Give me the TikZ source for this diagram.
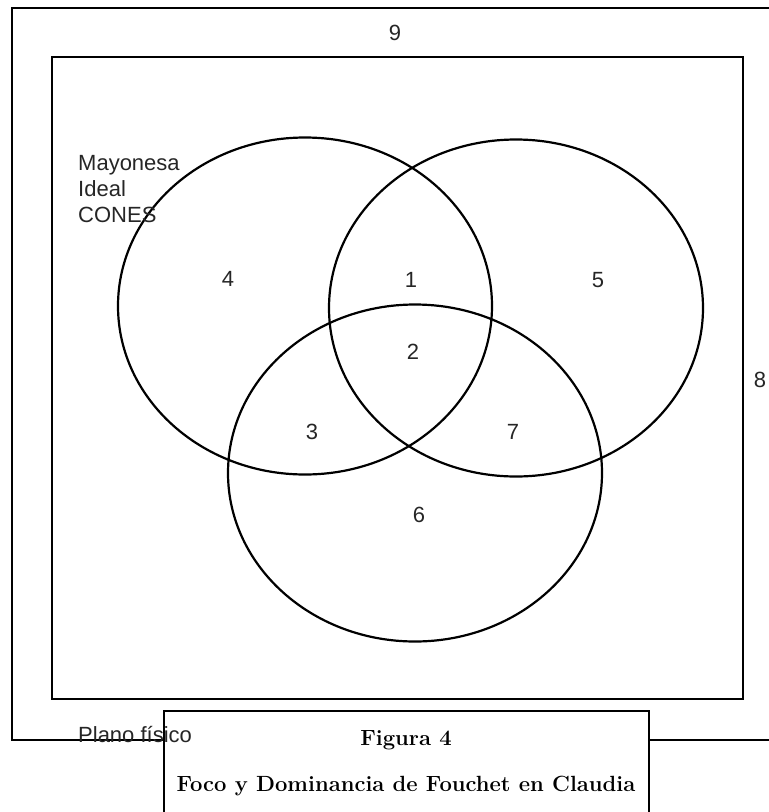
\documentclass[tikz,border=0pt]{standalone}
\usepackage{fontspec}
\setsansfont{Liberation Sans}
\usetikzlibrary{shapes.geometric}
\tikzstyle{frame} = [draw=black, line width=2.4pt]
\tikzstyle{venn} = [ellipse, draw=black, line width=2.2pt, minimum width=374pt, minimum height=337pt, inner sep=0pt]
\tikzstyle{num} = [font=\sffamily\fontsize{22}{26}\selectfont, text=black!85, inner sep=0pt]
\tikzstyle{caption} = [font=\bfseries\fontsize{22}{26}\selectfont, inner sep=0pt, anchor=base]

\begin{document}
\begin{tikzpicture}[x=1pt, y=-1pt]

\clip (0,0) rectangle (769,812);

\draw [frame] (12,8) rectangle (790,740);
\draw [frame] (52,57) rectangle (743,699);

\node (setL) [venn] at (305,306) {};
\node (setR) [venn] at (516,308) {};
\node (setB) [venn] at (415,473) {};

\node (name) [num, align=left, anchor=north west] at (78,155) {Mayonesa\\Ideal\\CONES};

\node (n1) [num] at (411,280) {1};
\node (n2) [num] at (413,352) {2};
\node (n3) [num] at (312,432) {3};
\node (n4) [num] at (228,279) {4};
\node (n5) [num] at (598,280) {5};
\node (n6) [num] at (419,515) {6};
\node (n7) [num] at (513,432) {7};
\node (n8) [num] at (760,380) {8};
\node (n9) [num] at (395,33) {9};

\draw [frame, fill=white] (164,711) rectangle (649,840);
\node (plano) [num, anchor=base west] at (78,742) {Plano físico};

\node (fig) [caption] at (406,745) {Figura 4};
\node (title) [caption] at (406,791) {Foco y Dominancia de Fouchet en Claudia};

\end{tikzpicture}
\end{document}
